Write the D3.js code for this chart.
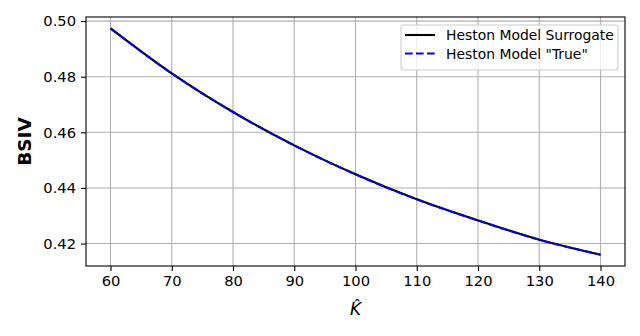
<!DOCTYPE html>
<html>
<head>
<meta charset="utf-8">
<script src="https://cdn.jsdelivr.net/npm/d3@7"></script>
<style>
  body { margin: 0; background: #fff; }
  svg { display: block; font-family: "DejaVu Sans", sans-serif; }
</style>
</head>
<body>
<div id="chart"></div>
<script>
// strike values K-hat
const strikes = [60, 70, 80, 90, 100, 110, 120, 130, 140];
// implied vols
const surrogate = [0.4974, 0.4812, 0.4673, 0.4553, 0.4449, 0.4359, 0.4283, 0.4214, 0.4160];
const trueVals  = [0.4974, 0.4812, 0.4673, 0.4553, 0.4449, 0.4359, 0.4283, 0.4214, 0.4160];
const xTicks = [60, 70, 80, 90, 100, 110, 120, 130, 140];
const yTicks = [0.42, 0.44, 0.46, 0.48, 0.50];
const seriesNames = ['Heston Model Surrogate', 'Heston Model "True"'];

const width = 640, height = 336;
const margin = { top: 17, right: 15, bottom: 70, left: 86 };
const w = width - margin.left - margin.right;
const h = height - margin.top - margin.bottom;

const svg = d3.select('#chart').append('svg')
  .attr('width', width)
  .attr('height', height);

const g = svg.append('g')
  .attr('transform', `translate(${margin.left},${margin.top})`);

// matplotlib style 5% margins
const xExt = d3.extent(strikes);
const xPad = (xExt[1] - xExt[0]) * 0.05;
const yExt = d3.extent(surrogate.concat(trueVals));
const yPad = (yExt[1] - yExt[0]) * 0.05;

const x = d3.scaleLinear().domain([xExt[0] - xPad, xExt[1] + xPad]).range([0, w]);
const y = d3.scaleLinear().domain([yExt[0] - yPad, yExt[1] + yPad]).range([h, 0]);

// grid
g.append('g')
  .selectAll('line')
  .data(xTicks)
  .join('line')
  .attr('x1', d => x(d)).attr('x2', d => x(d))
  .attr('y1', 0).attr('y2', h)
  .attr('stroke', '#b0b0b0').attr('stroke-width', 1.1);

g.append('g')
  .selectAll('line')
  .data(yTicks)
  .join('line')
  .attr('y1', d => y(d)).attr('y2', d => y(d))
  .attr('x1', 0).attr('x2', w)
  .attr('stroke', '#b0b0b0').attr('stroke-width', 1.1);

// axes
const xAxis = g.append('g')
  .attr('transform', `translate(0,${h})`)
  .call(d3.axisBottom(x).tickValues(xTicks).tickSize(5).tickPadding(5).tickFormat(d3.format('d')));
const yAxis = g.append('g')
  .call(d3.axisLeft(y).tickValues(yTicks).tickSize(5).tickPadding(5).tickFormat(d3.format('.2f')));

[xAxis, yAxis].forEach(a => {
  a.select('.domain').remove();
  a.selectAll('.tick line').attr('stroke', '#000').attr('stroke-width', 1.1);
  a.selectAll('.tick text')
    .attr('fill', '#000')
    .style('font-family', '"DejaVu Sans", sans-serif')
    .style('font-size', '14.7px');
});

// spines
g.append('rect')
  .attr('x', 0).attr('y', 0)
  .attr('width', w).attr('height', h)
  .attr('fill', 'none')
  .attr('stroke', '#000')
  .attr('stroke-width', 1.1);

// lines
const line = d3.line()
  .x(d => x(d[0]))
  .y(d => y(d[1]))
  .curve(d3.curveMonotoneX);

g.append('path')
  .datum(d3.zip(strikes, surrogate))
  .attr('d', line)
  .attr('fill', 'none')
  .attr('stroke', '#000')
  .attr('stroke-width', 2.1);

g.append('path')
  .datum(d3.zip(strikes, trueVals))
  .attr('d', line)
  .attr('fill', 'none')
  .attr('stroke', '#0000ff')
  .attr('stroke-width', 2.1)
  .attr('stroke-dasharray', '7.7,3.3');

// axis labels
svg.append('text')
  .attr('transform', `translate(31,${margin.top + h / 2}) rotate(-90)`)
  .attr('text-anchor', 'middle')
  .style('font-size', '18.5px')
  .style('font-weight', 'bold')
  .text('BSIV');

svg.append('text')
  .attr('x', margin.left + w / 2)
  .attr('y', 315)
  .attr('text-anchor', 'middle')
  .style('font-size', '17px')
  .style('font-style', 'italic')
  .text('K\u0302');

// legend
const legend = svg.append('g').attr('transform', 'translate(401,25)');
legend.append('rect')
  .attr('width', 217).attr('height', 45)
  .attr('rx', 3)
  .attr('fill', 'rgba(255,255,255,0.8)')
  .attr('stroke', '#cccccc')
  .attr('stroke-width', 1.1);

const styles = [
  { color: '#000', dash: null },
  { color: '#0000ff', dash: '7.7,3.3' }
];
seriesNames.forEach((name, i) => {
  const ly = 10 + i * 18.5;
  legend.append('line')
    .attr('x1', 4).attr('x2', 34)
    .attr('y1', ly).attr('y2', ly)
    .attr('stroke', styles[i].color)
    .attr('stroke-width', 2.1)
    .attr('stroke-dasharray', styles[i].dash);
  legend.append('text')
    .attr('x', 45).attr('y', ly + 5)
    .style('font-size', '13.9px')
    .attr('fill', '#000')
    .text(name);
});
</script>
</body>
</html>
